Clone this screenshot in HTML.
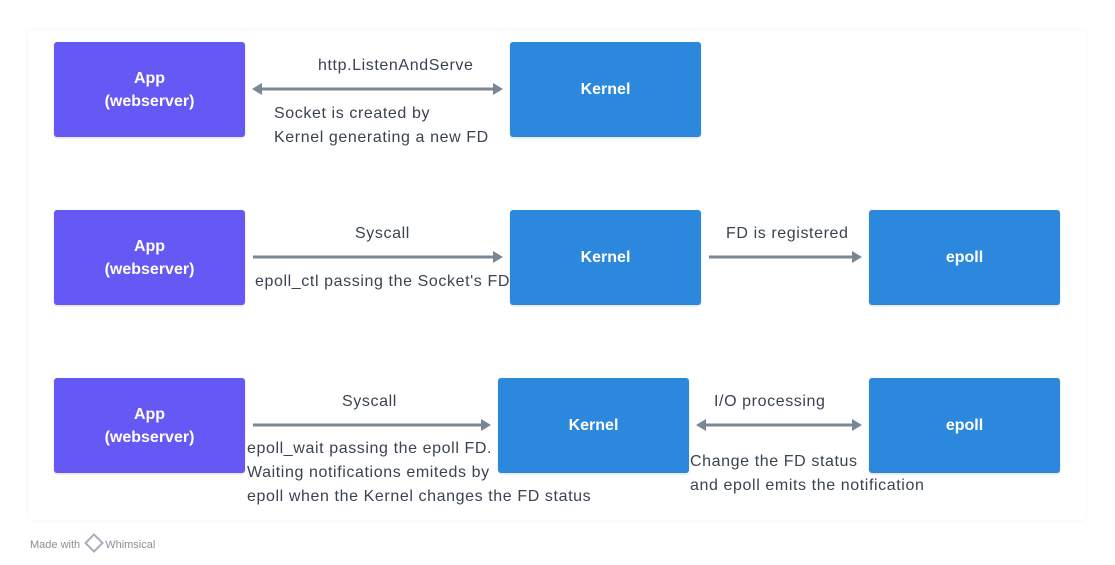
<!DOCTYPE html>
<html><head><style>
body{margin:0;width:1115px;height:565px;background:#fff;position:relative;font-family:"Liberation Sans",sans-serif;overflow:hidden}
.panel{position:absolute;left:28px;top:30px;width:1058px;height:490px;background:#fff;box-shadow:0 0 3px rgba(0,0,0,0.06);border-radius:4px}
.b{position:absolute;width:191px;height:95px;border-radius:3px;color:#fff;font-weight:bold;font-size:16px;display:flex;align-items:center;justify-content:center;text-align:center;line-height:23px;box-shadow:0 1px 2px rgba(0,0,0,0.15)}
.app{background:#6658f5}.k{background:#2c88dc}
.t{position:absolute;color:#3a4350;font-size:16px;line-height:24px;white-space:nowrap;letter-spacing:0.6px}
svg{position:absolute;left:0;top:0}
.wm{position:absolute;left:30px;top:536px;font-size:11px;color:#8a8f96}
</style></head><body>
<div class="panel"></div>
<div class="b app" style="left:54px;top:42px">App<br>(webserver)</div>
<div class="b k" style="left:510px;top:42px">Kernel</div>
<div class="b app" style="left:54px;top:210px">App<br>(webserver)</div>
<div class="b k" style="left:510px;top:210px">Kernel</div>
<div class="b k" style="left:869px;top:210px">epoll</div>
<div class="b app" style="left:54px;top:378px">App<br>(webserver)</div>
<div class="b k" style="left:498px;top:378px">Kernel</div>
<div class="b k" style="left:869px;top:378px">epoll</div>
<svg width="1115" height="565">
<g stroke="#7a8794" stroke-width="3" fill="#7a8794">
<line x1="258" y1="89" x2="496" y2="89"/>
<polygon points="252,89 262,83 262,95" stroke="none"/>
<polygon points="503,89 493,83 493,95" stroke="none"/>
<line x1="253" y1="257" x2="496" y2="257"/>
<polygon points="503,257 493,251 493,263" stroke="none"/>
<line x1="709" y1="257" x2="855" y2="257"/>
<polygon points="862,257 852,251 852,263" stroke="none"/>
<line x1="253" y1="425" x2="484" y2="425"/>
<polygon points="491,425 481,419 481,431" stroke="none"/>
<line x1="703" y1="425" x2="855" y2="425"/>
<polygon points="696,425 706,419 706,431" stroke="none"/>
<polygon points="862,425 852,419 852,431" stroke="none"/>
</g></svg>
<div class="t" style="left:318px;top:54px">http.ListenAndServe</div>
<div class="t" style="left:274px;top:102px">Socket is created by<br>Kernel generating a new FD</div>
<div class="t" style="left:355px;top:222px">Syscall</div>
<div class="t" style="left:255px;top:270px">epoll_ctl passing the Socket's FD</div>
<div class="t" style="left:726px;top:222px">FD is registered</div>
<div class="t" style="left:342px;top:390px">Syscall</div>
<div class="t" style="left:247px;top:437px">epoll_wait passing the epoll FD.<br>Waiting notifications emiteds by<br>epoll when the Kernel changes the FD status</div>
<div class="t" style="left:714px;top:390px">I/O processing</div>
<div class="t" style="left:690px;top:450px">Change the FD status<br>and epoll emits the notification</div>
<div class="wm">Made with <span style="display:inline-block;width:10px;height:10px;border:2px solid #aab;transform:rotate(45deg);margin:0 4px -2px 4px"></span>Whimsical</div>
</body></html>
